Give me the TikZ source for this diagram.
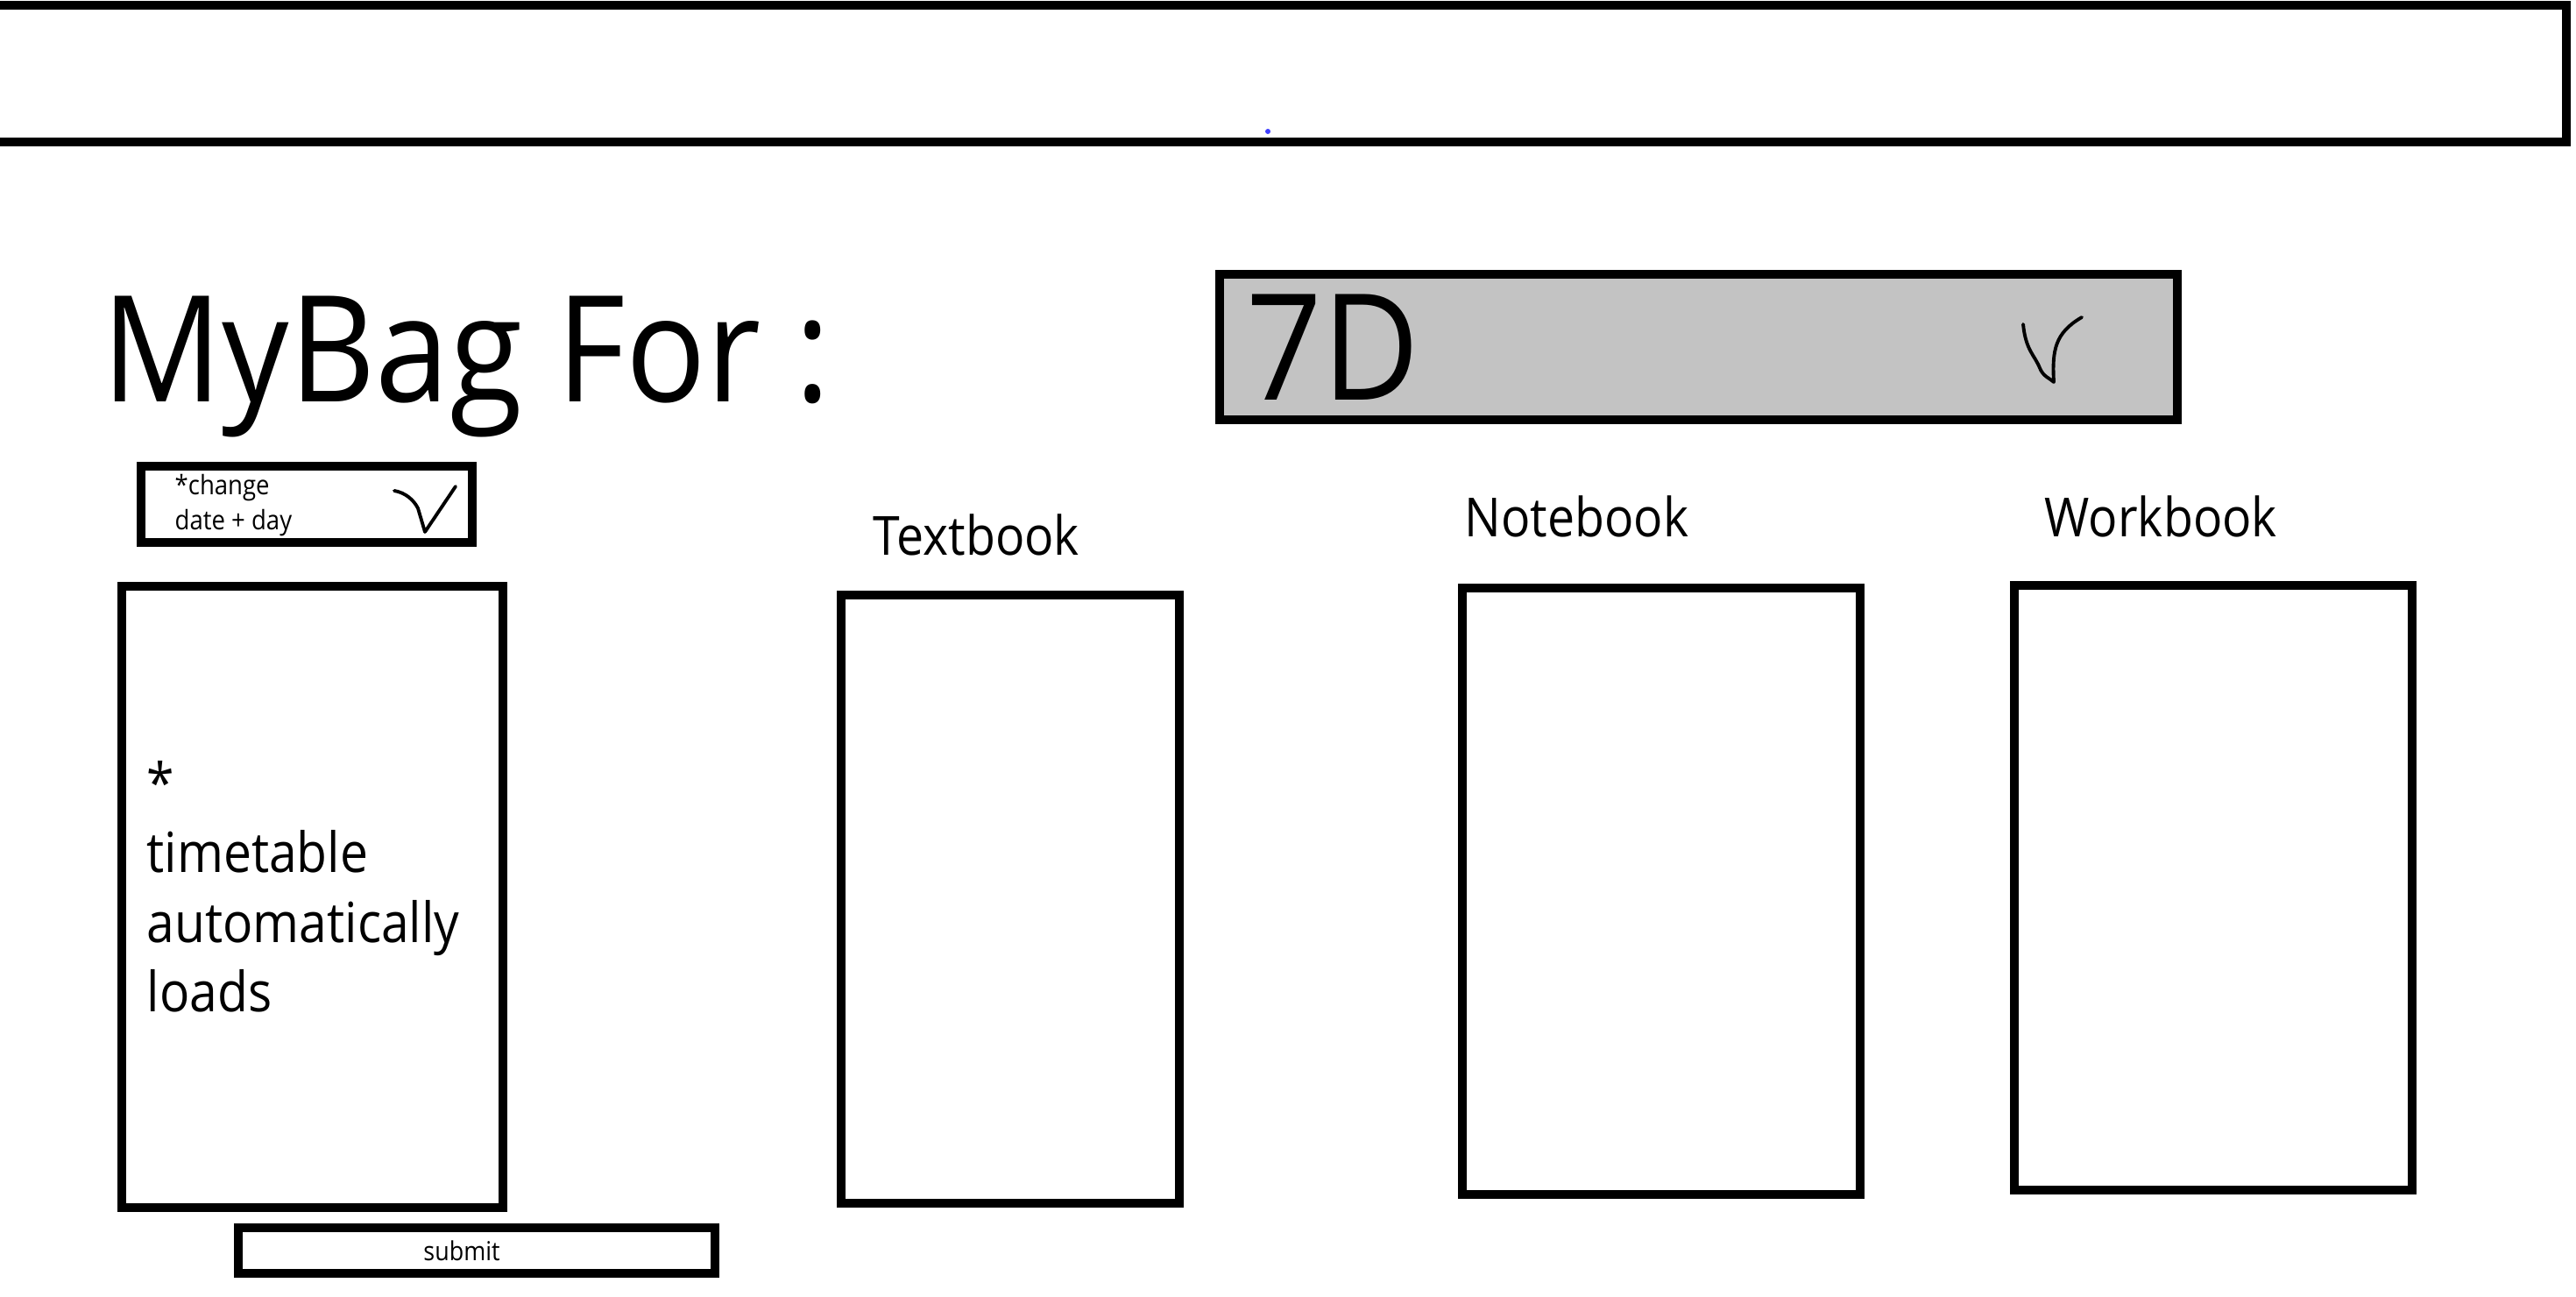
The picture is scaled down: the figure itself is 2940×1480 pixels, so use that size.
\documentclass[tikz,border=0pt]{standalone}
\usepackage{fontspec}
\setmainfont{Open Sans}[FakeStretch=0.9]

\begin{document}
\begin{tikzpicture}[x=0.01cm, y=-0.01cm,
    box/.style={draw=black, line width=2.85pt},
    bar/.style={draw=black, line width=3.1pt},
    tick/.style={draw=black, line width=1.1pt, line cap=round, line join=round},
    big/.style={anchor=base west, inner sep=0pt, font=\fontsize{48}{56}\selectfont},
    label/.style={anchor=base west, inner sep=0pt, font=\fontsize{17.5}{22}\selectfont},
    small/.style={anchor=base west, inner sep=0pt, font=\fontsize{8.7}{11.4}\selectfont, align=left}]

    % Page size
    \useasboundingbox (0,0) rectangle (2940,1480);

    % Top bar
    \draw[bar] (-20,6) rectangle (2929,162);
    \fill[blue!75] (1447,150) circle (3);

    % Heading and class picker
    \node[big] (title) at (116,459) {MyBag For :};
    \draw[box, fill={rgb,255:red,195;green,195;blue,195}] (1392,313) rectangle (2485,479);
    \node[big] (class) at (1422,457) {7D};
    \draw[tick] (2309,370) .. controls (2312,400) and (2322,405) .. (2328,420)
        .. controls (2332,430) and (2340,432) .. (2344,436)
        .. controls (2342,400) and (2345,380) .. (2376,362);

    % Date selector
    \draw[box] (161,532) rectangle (539,619);
    \node[small] (date) at (199,605) {*change\\date + day};
    \draw[tick] (450,560) .. controls (462,562) and (472,570) .. (477,580)
        -- (485,607) -- (520,555);

    % Timetable panel
    \draw[box] (139,669) rectangle (574,1378);
    \node[anchor=north west, inner sep=0pt, align=left,
        font=\fontsize{18}{22.5}\selectfont] (timetable) at (167,868)
        {*\\timetable\\automatically\\loads};

    % Submit button
    \draw[box] (272,1401) rectangle (816,1453);
    \node[inner sep=0pt, font=\fontsize{8.5}{10}\selectfont] (submit) at (527,1427) {submit};

    % Book columns
    \node[label] (textbook) at (996,634) {Textbook};
    \draw[box] (960,679) rectangle (1346,1373);
    \node[label] (notebook) at (1671,613) {Notebook};
    \draw[box] (1669,671) rectangle (2123,1363);
    \node[label] (workbook) at (2333,613) {Workbook};
    \draw[box] (2299,668) rectangle (2753,1358);

\end{tikzpicture}
\end{document}
